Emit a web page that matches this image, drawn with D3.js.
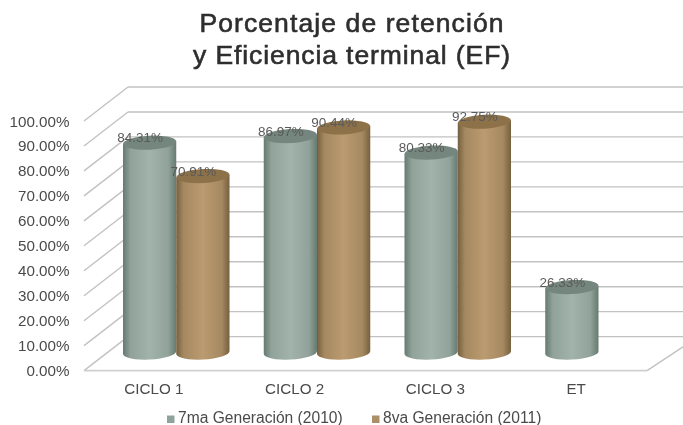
<!DOCTYPE html>
<html><head><meta charset="utf-8">
<script src="https://cdn.jsdelivr.net/npm/d3@7"></script>
<style>html,body{margin:0;padding:0;background:#fff}svg{display:block;filter:blur(0.6px)}</style>
</head><body>
<svg id="c" width="683" height="425"></svg>
<script>
const titleLines = ["Porcentaje de retención", "y Eficiencia terminal (EF)"];
const categories = ["CICLO 1", "CICLO 2", "CICLO 3", "ET"];
const seriesNames = ["7ma Generación (2010)", "8va Generación (2011)"];
const gen7 = [84.31, 86.97, 80.33, 26.33];
const gen8 = [70.91, 90.44, 92.75, null];
const yTicks = [0,10,20,30,40,50,60,70,80,90,100];
const seriesColors = [
  {dark:"#667a71", mid:"#a2b3ab", top:"#74867e", legend:"#8fa39b"},
  {dark:"#75603f", mid:"#bb9b70", top:"#8d7149", legend:"#ab8f69"}
];

const FONT = "'Liberation Sans',Arial,sans-serif";
const svg = d3.select("#c");
const defs = svg.append("defs");
seriesColors.forEach((c,i)=>{
  const g = defs.append("linearGradient").attr("id","cyl"+i);
  [[0,c.dark],[0.14,d3.interpolateRgb(c.dark,c.mid)(0.7)],[0.5,c.mid],[0.85,d3.interpolateRgb(c.dark,c.mid)(0.7)],[1,c.dark]]
    .forEach(s=>g.append("stop").attr("offset",s[0]).attr("stop-color",s[1]));
});

const floorLeft = 84, floorRight = 647, frontBase = 370.6;
const depthX = 44, depthY = 34;
const yFront = d3.scaleLinear().domain([0,100]).range([frontBase,121]);
const x0 = d3.scaleBand().domain(categories).range([floorLeft,floorRight]);
const x1 = d3.scaleBand().domain([0,1]).range([39,145.5]);
const barBase = frontBase - 18;
const yBar = d3.scaleLinear().domain([0,100]).range([barBase, barBase-249]);

const gridColor = "#c2c2c2";
const grid = svg.append("g").attr("fill","none").attr("stroke",gridColor).attr("stroke-width",1.4);
yTicks.forEach(t=>{
  const y = yFront(t);
  grid.append("line").attr("x1",floorLeft+depthX).attr("x2",683).attr("y1",y-depthY).attr("y2",y-depthY);
  grid.append("line").attr("x1",floorLeft).attr("x2",floorLeft+depthX).attr("y1",y).attr("y2",y-depthY);
});
grid.append("line").attr("x1",floorLeft).attr("x2",floorRight).attr("y1",frontBase).attr("y2",frontBase).attr("stroke","#d0d0d0").attr("stroke-width",1.8);
grid.append("line").attr("x1",floorRight).attr("x2",683).attr("y1",frontBase).attr("y2",frontBase-(683-floorRight)*depthY/depthX*0.85);

const ry = 7, tilt = -3;
const tiltDy = Math.sin(-tilt*Math.PI/180);
const bars = [];
[gen7,gen8].forEach((arr,si)=>{
  categories.forEach((cat,ci)=>{ if(arr[ci]!=null) bars.push({cat,si,v:arr[ci]}); });
});
const gb = svg.append("g");
bars.forEach(d=>{
  const w = x1.bandwidth();
  const cx = x0(d.cat)+x1(d.si)+w/2, rx = w/2;
  const top = yBar(d.v);
  const c = seriesColors[d.si];
  const dy = rx*tiltDy;
  gb.append("path")
    .attr("d",`M${cx-rx},${top+dy}L${cx-rx},${barBase+dy}A${rx},${ry} ${tilt} 0 0 ${cx+rx},${barBase-dy}L${cx+rx},${top-dy}Z`)
    .attr("fill",`url(#cyl${d.si})`);
  gb.append("ellipse").attr("cx",cx).attr("cy",top).attr("rx",rx).attr("ry",ry)
    .attr("transform",`rotate(${tilt} ${cx} ${top})`).attr("fill",c.top);
});

const labels = svg.append("g").attr("font-family",FONT).attr("font-size",13.5).attr("fill","#5a5a5a").attr("text-anchor","middle");
bars.forEach(d=>{
  const w = x1.bandwidth();
  labels.append("text").attr("x",x0(d.cat)+x1(d.si)+w/2-9.5).attr("y",yBar(d.v)-0.5).text(d.v.toFixed(2)+"%");
});

const axisG = svg.append("g").attr("font-family",FONT).attr("fill","#4a4a4a");
yTicks.forEach(t=>{
  axisG.append("text").attr("x",69.5).attr("y",yFront(t)+5.5).attr("text-anchor","end").attr("font-size",15.2).text(t.toFixed(2)+"%");
});
categories.forEach(cat=>{
  axisG.append("text").attr("x",x0(cat)+x0.bandwidth()/2-0.5).attr("y",394).attr("text-anchor","middle").attr("font-size",15.2).text(cat);
});

const title = svg.append("g").attr("font-family",FONT).attr("fill","#2e2e2e").attr("text-anchor","middle").attr("font-size",26.5).attr("stroke","#2e2e2e").attr("stroke-width",0.6);
const titleSpacing = [1.1, 0.9];
titleLines.forEach((l,i)=>title.append("text").attr("x",352).attr("y",32+i*32).attr("letter-spacing",titleSpacing[i]).text(l));

const legendX = [167,372];
const lg = svg.append("g").attr("font-family",FONT).attr("fill","#4a4a4a").attr("font-size",15.6);
seriesNames.forEach((s,i)=>{
  lg.append("rect").attr("x",legendX[i]).attr("y",415.5).attr("width",7.5).attr("height",7.5).attr("fill",seriesColors[i].legend);
  lg.append("text").attr("x",legendX[i]+11).attr("y",422.5).text(s);
});
</script>
</body></html>
